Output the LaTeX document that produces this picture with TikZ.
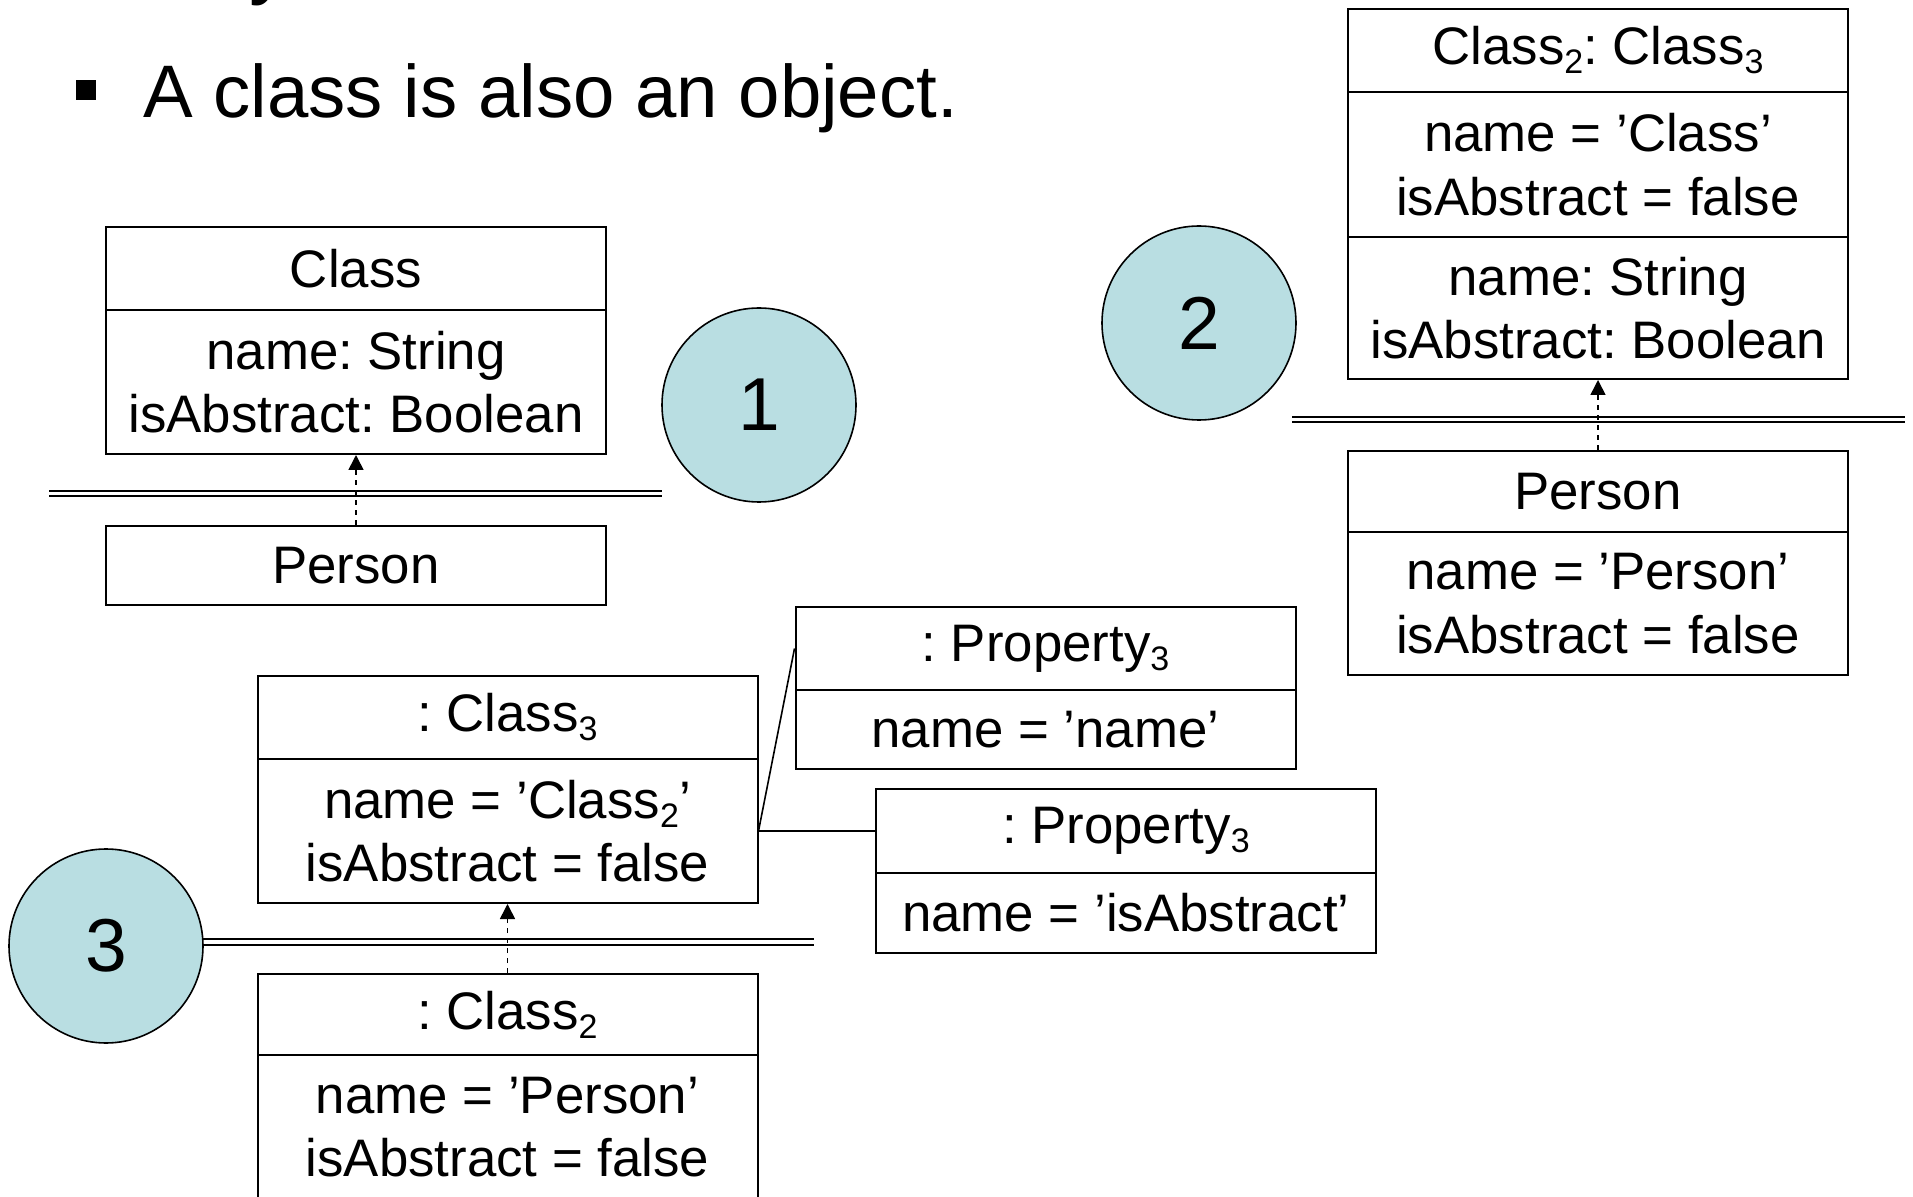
\documentclass[tikz,border=0pt]{standalone}
\usepackage{fontspec}
\setmainfont{Liberation Sans}
\usetikzlibrary{arrows.meta}
\definecolor{circfill}{RGB}{185,222,226}
\newcommand{\sbs}[1]{\raisebox{-0.32ex}{\fontsize{17}{17}\selectfont #1}}
\begin{document}
\frenchspacing
\begin{tikzpicture}[x=0.5pt,y=-0.5pt,
  cell/.style={draw, line width=1pt, inner sep=0pt, minimum width=250pt, align=center,
    font=\frenchspacing\fontsize{26.4}{31.7}\selectfont},
  circ/.style={circle, draw, line width=0.8pt, fill=circfill, minimum size=97pt, inner sep=0pt,
    font=\fontsize{37.5}{40}\selectfont},
  dep/.style={line width=0.8pt, dash pattern=on 2.5pt off 2.5pt,
    -{Triangle[width=7.5pt,length=7.5pt]}},
  sep/.style={double, double distance=1.8pt, line width=1pt},
  link/.style={line width=0.8pt}]
\useasboundingbox (0,0) rectangle (1913,1197);
\clip (0,0) rectangle (1913,1197);
\fill[white] (0,0) rectangle (1913,1197);

% title fragment and bullet
\node[anchor=base west, inner sep=0pt, font=\fontsize{42}{44}\selectfont] (ttl) at (249,-11) {y};
\node[fill=black, minimum size=10pt, inner sep=0pt] (bul) at (86,90) {};
\node[anchor=base west, inner sep=0pt, font=\fontsize{37.2}{44}\selectfont] (txt) at (143,118) {A class is also an object.};

% diagram 1
\node[cell, minimum height=41.5pt] (c1h) at (356,268.5) {Class};
\node[cell, minimum height=72pt] (c1a) at (356,382) {name: String\\isAbstract: Boolean};
\node[cell, minimum height=39.5pt] (p1) at (356,565.5) {Person};
\coordinate (d1a) at (49,493.5);
\coordinate (d1b) at (662,493.5);
\draw[sep] (d1a) -- (d1b);
\draw[dep] (p1.north) -- (c1a.south);
\node[circ] (n1) at (759,405) {1};

% diagram 2
\node[cell, minimum height=41.5pt] (c2h) at (1598,50.5) {Class\sbs{2}: Class\sbs{3}};
\node[cell, minimum height=72.5pt] (c2s) at (1598,164.5) {name = ’Class’\\isAbstract = false};
\node[cell, minimum height=71pt] (c2a) at (1598,308) {name: String\\isAbstract: Boolean};
\node[cell, minimum height=40.5pt] (p2h) at (1598,491.5) {Person};
\node[cell, minimum height=71.5pt] (p2s) at (1598,603.5) {name = ’Person’\\isAbstract = false};
\coordinate (d2a) at (1292,419.5);
\coordinate (d2b) at (1905,419.5);
\draw[sep] (d2a) -- (d2b);
\draw[dep] (p2h.north) -- (c2a.south);
\node[circ] (n2) at (1199,323) {2};

% diagram 3
\node[cell, minimum height=41.5pt] (c3h) at (507.5,717.5) {: Class\sbs{3}};
\node[cell, minimum height=72pt] (c3s) at (507.5,831) {name = ’Class\sbs{2}’\\isAbstract = false};
\node[cell, minimum height=40.5pt] (k2h) at (507.5,1014.5) {: Class\sbs{2}};
\node[cell, minimum height=72pt] (k2s) at (507.5,1127) {name = ’Person’\\isAbstract = false};
\coordinate (d3a) at (201,942);
\coordinate (d3b) at (814,942);
\draw[sep] (d3a) -- (d3b);
\draw[dep] (k2h.north) -- (c3s.south);
\node[circ] (n3) at (106,946) {3};

\node[cell, minimum height=41.5pt] (q1h) at (1045.5,648.5) {: Property\sbs{3}};
\node[cell, minimum height=39.5pt] (q1s) at (1045.5,729.5) {name = ’name’};
\node[cell, minimum height=42pt] (q2h) at (1126,831) {: Property\sbs{3}};
\node[cell, minimum height=40pt] (q2s) at (1126,913) {name = ’isAbstract’};
\draw[link] (c3s.east) -- (q1h.west);
\draw[link] (c3s.east) -- (q2h.west);
\end{tikzpicture}
\end{document}
